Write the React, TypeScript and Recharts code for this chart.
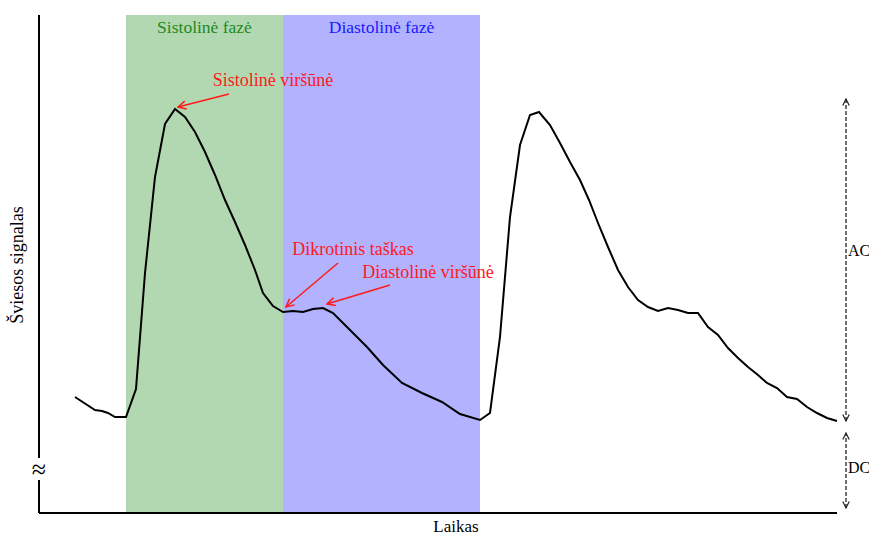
import React from "react";
import {
  ComposedChart,
  Line,
  XAxis,
  YAxis,
  ReferenceArea,
  ReferenceLine,
  ReferenceDot,
} from "recharts";

// time samples (arbitrary units) and light signal values of the PPG pulse
const time = [
  36, 56, 63, 69, 76, 87, 97, 106, 116, 126, 136, 146, 156, 166, 176, 186, 196,
  206, 216, 224, 234, 244, 254, 264, 274, 284, 294, 311, 328, 344, 363, 383,
  403, 421, 441, 451, 461, 471, 481, 491, 500, 511, 521, 531, 541, 550, 559,
  569, 579, 589, 599, 609, 619, 629, 639, 649, 659, 669, 679, 689, 699, 709,
  719, 728, 738, 748, 758, 768, 778, 788, 798,
];
const signal = [
  116, 103, 102, 100, 96, 96, 124, 240, 336, 389, 404, 396, 381, 361, 338, 313,
  291, 268, 243, 220, 207, 201, 202, 201, 204, 205, 200, 183, 166, 148, 130,
  120, 111, 99, 93, 100, 176, 296, 368, 398, 401, 388, 370, 351, 333, 313, 290,
  266, 243, 226, 213, 206, 202, 205, 203, 200, 200, 186, 178, 165, 155, 146,
  138, 130, 125, 116, 114, 106, 100, 95, 92,
];

// phases: [start, end]
const systolicPhase = [87, 244];
const diastolicPhase = [244, 441];

const data = time.map((t, i) => ({ t, v: signal[i] }));

const serif = "'Liberation Serif', 'DejaVu Serif', serif";

export default function App() {
  return (
    <div style={{ position: "absolute", left: 0, top: 0 }}>
      <ComposedChart
        width={869}
        height={535}
        data={data}
        margin={{ top: 15, right: 32, left: 39, bottom: 22 }}
        style={{ fontFamily: serif }}
      >
        <defs>
          <marker
            id="arrRed"
            viewBox="0 0 10 10"
            refX="9"
            refY="5"
            markerWidth="10"
            markerHeight="10"
            markerUnits="userSpaceOnUse"
            orient="auto"
          >
            <path d="M1,1 L9,5 L1,9" fill="none" stroke="#ff1a1a" strokeWidth={1.5} />
          </marker>
          <marker
            id="arrBlack"
            viewBox="0 0 10 10"
            refX="9"
            refY="5"
            markerWidth="8"
            markerHeight="8"
            markerUnits="userSpaceOnUse"
            orient="auto-start-reverse"
          >
            <path d="M1,1 L9,5 L1,9" fill="none" stroke="#222" strokeWidth={1.5} />
          </marker>
        </defs>
        <XAxis dataKey="t" type="number" domain={[0, 798]} hide />
        <YAxis type="number" domain={[0, 498]} hide />

        <ReferenceArea
          x1={systolicPhase[0]}
          x2={systolicPhase[1]}
          y1={0}
          y2={498}
          fill="#b2d8b2"
          fillOpacity={1}
          stroke="none"
          label={{ value: "Sistolinė fazė", position: "insideTop", offset: 6, fill: "#1e8a1e", fontSize: 17.5 }}
        />
        <ReferenceArea
          x1={diastolicPhase[0]}
          x2={diastolicPhase[1]}
          y1={0}
          y2={498}
          fill="#b2b2ff"
          fillOpacity={1}
          stroke="none"
          label={{ value: "Diastolinė fazė", position: "insideTop", offset: 6, fill: "#1a1aff", fontSize: 17.5 }}
        />

        {/* axes */}
        <ReferenceLine segment={[{ x: 0, y: 0 }, { x: 798, y: 0 }]} stroke="#000" strokeWidth={2} ifOverflow="visible" />
        <ReferenceLine segment={[{ x: 0, y: 0 }, { x: 0, y: 33 }]} stroke="#000" strokeWidth={2} ifOverflow="visible" />
        <ReferenceLine segment={[{ x: 0, y: 55 }, { x: 0, y: 498 }]} stroke="#000" strokeWidth={2} ifOverflow="visible" />
        <ReferenceDot x={0} y={44} r={0} ifOverflow="visible" label={{ value: "≈", position: "center", fontSize: 26, fill: "#000" }} />

        <Line
          dataKey="v"
          type="linear"
          stroke="#000"
          strokeWidth={2}
          dot={false}
          isAnimationActive={false}
        />

        {/* annotations */}
        <ReferenceLine segment={[{ x: 190, y: 419 }, { x: 139, y: 406 }]} stroke="#ff1a1a" strokeWidth={1.5} markerEnd="url(#arrRed)" ifOverflow="visible" />
        <ReferenceLine segment={[{ x: 299, y: 250 }, { x: 247, y: 206 }]} stroke="#ff1a1a" strokeWidth={1.5} markerEnd="url(#arrRed)" ifOverflow="visible" />
        <ReferenceLine segment={[{ x: 351, y: 228 }, { x: 288, y: 209 }]} stroke="#ff1a1a" strokeWidth={1.5} markerEnd="url(#arrRed)" ifOverflow="visible" />
        <ReferenceDot x={234} y={433} r={0} ifOverflow="visible" label={{ value: "Sistolinė viršūnė", position: "center", fill: "#ff1a1a", fontSize: 18 }} />
        <ReferenceDot x={314} y={264} r={0} ifOverflow="visible" label={{ value: "Dikrotinis taškas", position: "center", fill: "#ff1a1a", fontSize: 18 }} />
        <ReferenceDot x={389} y={241} r={0} ifOverflow="visible" label={{ value: "Diastolinė viršūnė", position: "center", fill: "#ff1a1a", fontSize: 18 }} />

        {/* AC / DC */}
        <ReferenceLine segment={[{ x: 807, y: 92 }, { x: 807, y: 414 }]} stroke="#222" strokeWidth={1.3} strokeDasharray="4 2" markerStart="url(#arrBlack)" markerEnd="url(#arrBlack)" ifOverflow="visible" />
        <ReferenceLine segment={[{ x: 807, y: 5 }, { x: 807, y: 80 }]} stroke="#222" strokeWidth={1.3} strokeDasharray="4 2" markerStart="url(#arrBlack)" markerEnd="url(#arrBlack)" ifOverflow="visible" />
        <ReferenceDot x={809} y={263} r={0} ifOverflow="visible" label={{ value: "AC", position: "right", offset: 0, fill: "#000", fontSize: 16 }} />
        <ReferenceDot x={809} y={46} r={0} ifOverflow="visible" label={{ value: "DC", position: "right", offset: 0, fill: "#000", fontSize: 16 }} />

        {/* axis titles */}
        <ReferenceDot x={417} y={-13} r={0} ifOverflow="visible" label={{ value: "Laikas", position: "center", fill: "#000", fontSize: 17 }} />
        <ReferenceDot x={-22} y={248} r={0} ifOverflow="visible" label={{ value: "Šviesos signalas", position: "center", angle: -90, fill: "#000", fontSize: 18 }} />
      </ComposedChart>
    </div>
  );
}
